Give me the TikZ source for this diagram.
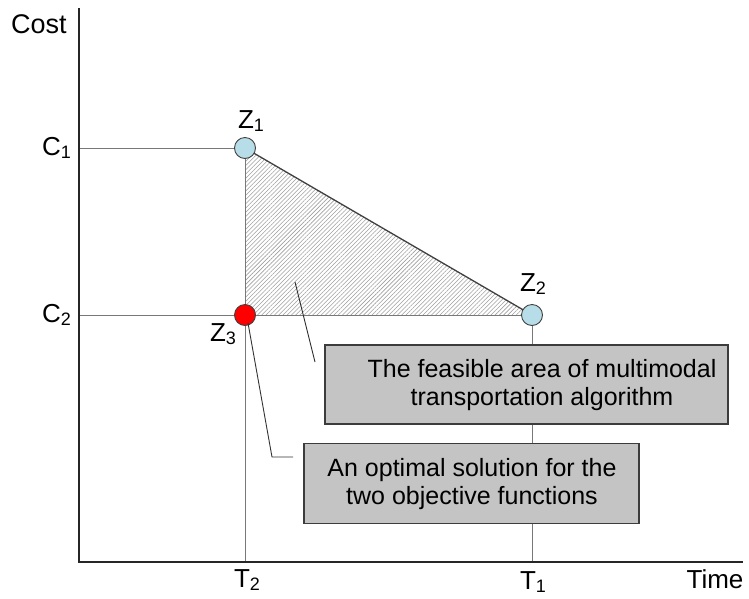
\documentclass[tikz,border=0pt]{standalone}
\usepackage{fontspec}
\setmainfont{Liberation Sans}
\usetikzlibrary{patterns.meta}
\definecolor{guide}{RGB}{120,120,120}
\definecolor{boxfill}{RGB}{196,196,196}
\definecolor{boxline}{RGB}{60,60,60}
\definecolor{ptblue}{RGB}{183,221,232}
\newcommand{\lblsub}[2]{#1\raisebox{-0.1em}{\fontsize{18}{18}\selectfont #2}}
\tikzset{
  guideline/.style={draw=guide, line width=0.9pt},
  axisline/.style={draw=black!85, line width=1.5pt},
  leader/.style={draw=black!80, line width=0.9pt},
  infobox/.style={draw=boxline, fill=boxfill, line width=1.4pt, inner sep=0pt},
  pointdot/.style={circle, draw=black!75, line width=0.9pt, minimum size=21pt, inner sep=0pt},
  lbl/.style={font=\fontsize{26}{30}\selectfont, inner sep=0pt},
  boxtext/.style={font=\fontsize{25}{28}\selectfont, align=center, inner sep=0pt}
}
\begin{document}
\begin{tikzpicture}[x=1pt,y=-1pt]
\useasboundingbox (0,0) rectangle (749,598);
% key coordinates
\coordinate (o) at (79,562);
\coordinate (ytop) at (79,8);
\coordinate (xend) at (743,562);
\coordinate (c1) at (79,148);
\coordinate (c2) at (79,315);
\coordinate (t2) at (245,562);
\coordinate (t1) at (532,562);
\coordinate (pz1) at (245,148);
\coordinate (pz2) at (532,315);
\coordinate (pz3) at (245,315);
% hatched feasible triangle
\fill[pattern={Lines[angle=45,distance=3pt,line width=0.55pt]}, pattern color=black!38] (pz1) -- (pz2) -- (pz3) -- cycle;
% guide lines
\draw[guideline] (c1) -- (pz1);
\draw[guideline] (c2) -- (pz2);
\draw[guideline] (pz1) -- (t2);
\draw[guideline] (pz2) -- (t1);
% hypotenuse
\draw[draw=black!75, line width=1.3pt] (pz1) -- (pz2);
% axes
\draw[axisline] (ytop) -- (o) -- (xend);
% boxes
\node[infobox, minimum width=403pt, minimum height=79pt] (box1) at (526.5,384.5) {};
\node[boxtext] (box1text) at (542,385) {The feasible area of multimodal\\transportation algorithm};
\node[infobox, minimum width=335pt, minimum height=80pt] (box2) at (471.5,483.5) {};
\node[boxtext] (box2text) at (472,484) {An optimal solution for the\\two objective functions};
% points
\node[pointdot, fill=ptblue] (z1) at (pz1) {};
\node[pointdot, fill=ptblue] (z2) at (pz2) {};
\node[pointdot, fill=red] (z3) at (pz3) {};
% leaders
\coordinate (la) at (295,282);
\coordinate (lb) at (315,362);
\draw[leader] (la) -- (lb);
\coordinate (lc) at (272,457);
\coordinate (ld) at (293,457);
\draw[leader] (z3.center) ++(3,8) -- (lc) -- (ld);
% labels
\node[lbl, font=\fontsize{27}{30}\selectfont] (cost) at (39,24) {Cost};
\node[lbl] (time) at (715,579) {Time};
\node[lbl, anchor=east] (lc1) at (71,148) {\lblsub{C}{1}};
\node[lbl, anchor=east] (lc2) at (71,315) {\lblsub{C}{2}};
\node[lbl] (lt2) at (247,580) {\lblsub{T}{2}};
\node[lbl] (lt1) at (533,582) {\lblsub{T}{1}};
\node[lbl] (lz1) at (251,121) {\lblsub{Z}{1}};
\node[lbl] (lz2) at (533,284) {\lblsub{Z}{2}};
\node[lbl] (lz3) at (223,334) {\lblsub{Z}{3}};
\end{tikzpicture}
\end{document}
